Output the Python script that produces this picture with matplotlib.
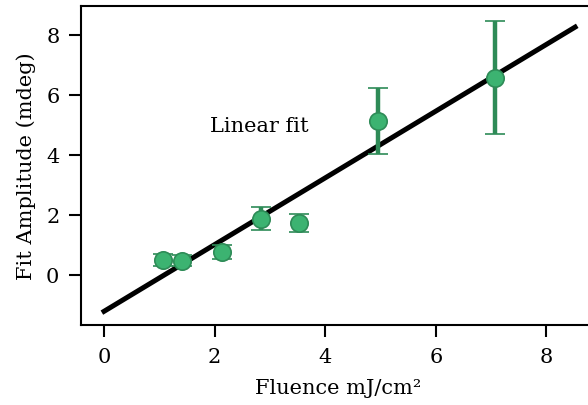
import numpy as np
import matplotlib
matplotlib.use("Agg")
import matplotlib.pyplot as plt

fluence = np.array([1.07, 1.41, 2.13, 2.84, 3.53, 4.95, 7.08])
amp = np.array([0.50, 0.47, 0.76, 1.87, 1.73, 5.12, 6.57])
amp_err = np.array([0.20, 0.18, 0.22, 0.38, 0.30, 1.10, 1.88])
fit_slope, fit_icpt = 1.113, -1.22
fit_x = np.array([0.0, 8.52])

plt.rcParams["font.family"] = "DejaVu Serif"
fig = plt.figure(figsize=(5.88, 4.06), dpi=100)
ax = fig.add_axes([0.1378, 0.196, 0.876, 0.787])

ax.plot(fit_x, fit_slope * fit_x + fit_icpt, color="black", lw=3.6, zorder=2)
ax.errorbar(fluence, amp, yerr=amp_err, fmt="o", color="#2e8b57",
            mfc="#3cb371", mec="#2e8b57", ms=12.5, mew=1.2,
            elinewidth=3.2, capsize=7, capthick=2.5, zorder=3)
ax.text(2.8, 4.97, "Linear fit", ha="center", va="center", fontsize=15)

ax.set_xlim(-0.416, 8.9)
ax.set_ylim(-1.69, 8.97)
ax.set_xticks([0, 2, 4, 6, 8])
ax.set_yticks([0, 2, 4, 6, 8])
ax.set_xlabel("Fluence mJ/cm²", fontsize=15, labelpad=9)
ax.set_ylabel("Fit Amplitude (mdeg)", fontsize=15, labelpad=7)
ax.tick_params(labelsize=15, length=8.5, width=1.5, pad=7)
for s in ax.spines.values():
    s.set_linewidth(1.5)

fig.savefig("out.png", dpi=100)
